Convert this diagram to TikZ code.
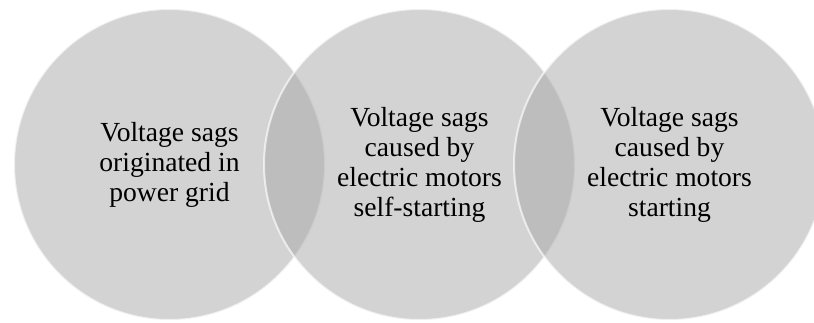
\documentclass[tikz,border=0pt]{standalone}
\usepackage{fontspec}
\setmainfont{Liberation Serif}
\definecolor{ringfill}{RGB}{167,167,167}
\begin{document}
\begin{tikzpicture}[x=1pt,y=-1pt,
  ring/.style={circle, minimum size=311pt, inner sep=0pt,
    fill=ringfill, fill opacity=0.5, draw=white, draw opacity=0.65,
    line width=2pt},
  caption/.style={align=center, text=black,
    font=\fontsize{27.6}{30}\selectfont}]
  \useasboundingbox (0,0) rectangle (814,322);
  \clip (0,0) rectangle (814,322);
  % three overlapping translucent circles
  \node[ring] (c1) at (169.5,164.5) {};
  \node[ring] (c2) at (419.5,164.5) {};
  \node[ring] (c3) at (669.5,164.5) {};
  % captions
  \node[caption] (t1) at (c1) {Voltage sags\\originated in\\power grid};
  \node[caption] (t2) at (c2) {Voltage sags\\caused by\\electric motors\\self-starting};
  \node[caption] (t3) at (c3) {Voltage sags\\caused by\\electric motors\\starting};
\end{tikzpicture}
\end{document}
